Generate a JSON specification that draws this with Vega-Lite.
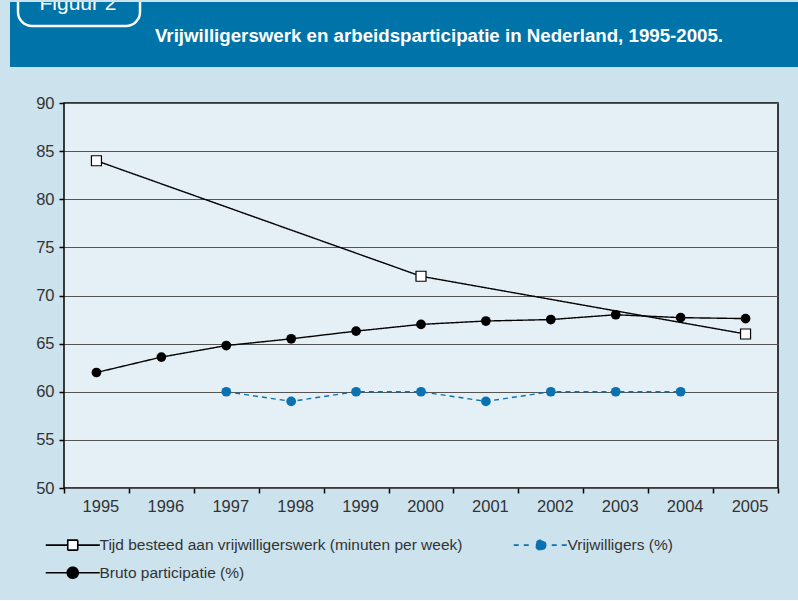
{
  "$schema": "https://vega.github.io/schema/vega-lite/v6.json",
  "background": "#cce2ed",
  "padding": {"left": 10, "top": 2, "right": 0, "bottom": 18},
  "bounds": "flush",
  "spacing": 36,
  "config": {"font": "Liberation Sans"},
  "vconcat": [
    {
      "width": 788,
      "height": 65,
      "view": {"fill": "#0073a9", "stroke": null},
      "data": {"values": [{"title": "Vrijwilligerswerk en arbeidsparticipatie in Nederland, 1995-2005.", "tab": "Figuur 2"}]},
      "layer": [
        {
          "mark": {"type": "point", "shape": "M-372,-57H-278A14,14 0 0 1 -264,-43V-22.5A14,14 0 0 1 -278,-8.5H-372A14,14 0 0 1 -386,-22.5V-43A14,14 0 0 1 -372,-57Z", "size": 4, "filled": true, "fill": "#0073a9", "stroke": "white", "strokeWidth": 2.5, "opacity": 1, "clip": true},
          "encoding": {}
        },
        {
          "mark": {"type": "text", "font": "Liberation Sans", "fontWeight": "bold", "fontSize": 18.7, "fill": "white", "baseline": "alphabetic", "align": "center", "dx": 35, "dy": 7.5},
          "encoding": {"text": {"field": "title"}}
        },
        {
          "mark": {"type": "text", "font": "Liberation Sans", "fontSize": 21, "fill": "white", "baseline": "alphabetic", "align": "center", "dx": -326, "dy": -25, "clip": true},
          "encoding": {"text": {"field": "tab"}}
        }
      ]
    },
    {
      "bounds": "flush",
      "spacing": 0,
      "hconcat": [
        {"width": 54, "height": 385, "view": {"stroke": null}, "data": {"values": [{"k": 1}]}, "mark": {"type": "point", "opacity": 0}, "encoding": {}},
        {
          "width": 714,
          "height": 385,
          "view": {"fill": "#e4eff6", "stroke": "black", "strokeWidth": 1.5},
          "data": {"values": [
            {"year": "1995", "series": "Tijd besteed aan vrijwilligerswerk (minuten per week)", "value": 84},
            {"year": "2000", "series": "Tijd besteed aan vrijwilligerswerk (minuten per week)", "value": 72},
            {"year": "2005", "series": "Tijd besteed aan vrijwilligerswerk (minuten per week)", "value": 66},
            {"year": "1997", "series": "Vrijwilligers (%)", "value": 60},
            {"year": "1998", "series": "Vrijwilligers (%)", "value": 59},
            {"year": "1999", "series": "Vrijwilligers (%)", "value": 60},
            {"year": "2000", "series": "Vrijwilligers (%)", "value": 60},
            {"year": "2001", "series": "Vrijwilligers (%)", "value": 59},
            {"year": "2002", "series": "Vrijwilligers (%)", "value": 60},
            {"year": "2003", "series": "Vrijwilligers (%)", "value": 60},
            {"year": "2004", "series": "Vrijwilligers (%)", "value": 60},
            {"year": "1995", "series": "Bruto participatie (%)", "value": 62},
            {"year": "1996", "series": "Bruto participatie (%)", "value": 63.6},
            {"year": "1997", "series": "Bruto participatie (%)", "value": 64.8},
            {"year": "1998", "series": "Bruto participatie (%)", "value": 65.5},
            {"year": "1999", "series": "Bruto participatie (%)", "value": 66.3},
            {"year": "2000", "series": "Bruto participatie (%)", "value": 67.0},
            {"year": "2001", "series": "Bruto participatie (%)", "value": 67.35},
            {"year": "2002", "series": "Bruto participatie (%)", "value": 67.5},
            {"year": "2003", "series": "Bruto participatie (%)", "value": 68.0},
            {"year": "2004", "series": "Bruto participatie (%)", "value": 67.7},
            {"year": "2005", "series": "Bruto participatie (%)", "value": 67.6}
          ]},
          "encoding": {
            "x": {
              "field": "year", "type": "ordinal",
              "scale": {"type": "band", "paddingInner": 0, "paddingOuter": 0},
              "axis": {"title": null, "labelAngle": 0, "tickBand": "extent", "domain": false, "ticks": true, "tickColor": "black", "tickSize": 5, "tickWidth": 1.5, "labelFontSize": 16.5, "labelColor": "#333333", "labelPadding": 5, "labelOffset": 4, "grid": false}
            },
            "y": {
              "field": "value", "type": "quantitative",
              "scale": {"domain": [50, 90], "nice": false, "zero": false},
              "axis": {"title": null, "values": [50, 55, 60, 65, 70, 75, 80, 85, 90], "domain": false, "tickColor": "black", "tickSize": 5, "tickWidth": 1.5, "labelPadding": 5, "labelFontSize": 16.5, "labelColor": "#333333", "grid": true, "gridColor": "#555555", "gridWidth": 1}
            }
          },
          "layer": [
            {
              "mark": {"type": "line", "strokeWidth": 1.4},
              "encoding": {
                "stroke": {
                  "field": "series", "type": "nominal",
                  "scale": {"domain": ["Tijd besteed aan vrijwilligerswerk (minuten per week)", "Vrijwilligers (%)", "Bruto participatie (%)"], "range": ["black", "#0a72b0", "black"]},
                  "legend": {
                    "title": null, "orient": "none", "legendX": 55, "legendY": 535, "columns": 2, "direction": "horizontal",
                    "symbolSize": 100, "symbolStrokeWidth": 1.6, "labelOffset": 19, "columnPadding": 47, "rowPadding": 10,
                    "labelFontSize": 15.5, "labelColor": "#333333", "labelLimit": 0,
                    "encode": {
                      "symbols": {
                        "update": {
                          "shape": {"signal": "datum.value == 'Tijd besteed aan vrijwilligerswerk (minuten per week)' ? 'M-5.4,0H-1M1,0H5.4M-1,-1H1V1H-1Z' : (datum.value == 'Vrijwilligers (%)' ? 'M-5.4,0H-4.2M-3.4,0H-2.2M2.2,0H3.4M4.2,0H5.4M1,0A1,1 0 1 1 -1,0A1,1 0 1 1 1,0Z' : 'M-5.4,0H5.4M1.1,0A1.1,1.1 0 1 1 -1.1,0A1.1,1.1 0 1 1 1.1,0Z')"},
                          "fill": {"signal": "datum.value == 'Tijd besteed aan vrijwilligerswerk (minuten per week)' ? 'white' : (datum.value == 'Vrijwilligers (%)' ? '#0a72b0' : 'black')"},
                          "strokeDash": {"value": [1, 0]},
                          "opacity": {"value": 1}
                        }
                      }
                    }
                  }
                },
                "strokeDash": {
                  "field": "series", "type": "nominal", "legend": null,
                  "scale": {"domain": ["Tijd besteed aan vrijwilligerswerk (minuten per week)", "Vrijwilligers (%)", "Bruto participatie (%)"], "range": [[1, 0], [5, 4], [1, 0]]}
                }
              }
            },
            {
              "transform": [{"filter": "datum.series == 'Tijd besteed aan vrijwilligerswerk (minuten per week)'"}],
              "mark": {"type": "point", "shape": "square", "size": 100, "filled": true, "fill": "white", "stroke": "black", "strokeWidth": 1.2, "opacity": 1}
            },
            {
              "transform": [{"filter": "datum.series != 'Tijd besteed aan vrijwilligerswerk (minuten per week)'"}],
              "mark": {"type": "point", "shape": "circle", "size": 95, "filled": true, "opacity": 1},
              "encoding": {
                "fill": {"field": "series", "type": "nominal", "legend": null, "scale": {"domain": ["Vrijwilligers (%)", "Bruto participatie (%)"], "range": ["#0a72b0", "black"]}}
              }
            }
          ]
        }
      ]
    }
  ]
}
